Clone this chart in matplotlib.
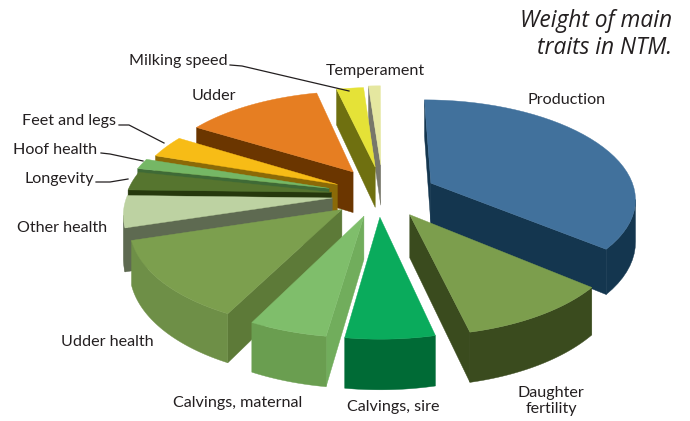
"""
Weight of main traits in NTM, drawn as an exploded 3D pie.
Matplotlib has no perspective pie, so wedges are projected by hand.
"""

import numpy as np
import matplotlib
matplotlib.use("Agg")
import matplotlib.pyplot as plt
from matplotlib.patches import Polygon

traits = ['Production', 'Daughter fertility', 'Calvings, sire', 'Calvings, maternal',
          'Udder health', 'Other health', 'Longevity', 'Hoof health',
          'Feet and legs', 'Udder', 'Milking speed', 'Temperament']
weights = [36.0, 10.4, 5.9, 5.2, 12.8, 5.1, 3.0, 1.7, 3.6, 12.7, 2.5, 1.1]
explode = [0.29, 0.23, 0.22, 0.22, 0.225, 0.224, 0.23, 0.26, 0.26, 0.30, 0.30, 0.32]
nudge = [0, 0.03, 0, 0, 0, 0, 0, 0.01, 0.035, 0.05, 0.03, 0.025]

top_colors = ['#41719C', '#7C9E4D', '#0AAB5C', '#7FBE6B', '#7C9F4E', '#BDD2A2',
              '#56752F', '#75B765', '#F7BC16', '#E67E22', '#E5E237', '#E5E7A0']
rim_colors = ['#14364F', '#3A4B1E', '#006B36', '#6A9E50', '#6E8F47', '#5E6A51',
              '#26380D', '#3F6A36', '#8B6A07', '#6B3600', '#6F7010', '#77776A']
wall_colors = ['#14364F', '#3A4B1E', '#006B36', '#71AD5C', '#5D7A38', '#5E6A51',
               '#26380D', '#3F6A36', '#8B6A07', '#6B3600', '#6F7010', '#77776A']

# projection settings, in pixels of the 690x421 picture
CX, CY = 378, 195
SCALE_X, SCALE_Y = 205, 98
PERSP = 0.14
DEPTH = 42


def project(gx, gy, drop=0):
    '''
    Ground plane coordinates to picture coordinates.
        Inputs:
            - gx, gy (arrays): position on the pie plane, radius 1
            - drop (float): how far below the top face
        Returns:
            - array of (x, y) pairs
    '''
    s = 1 / (1 + PERSP * gy)
    return np.column_stack([CX + SCALE_X * gx * s, CY - (SCALE_Y * gy - drop) * s])


def faces_viewer(quad):
    '''
    True if a side quad, walked along the top outline, turns towards the viewer.
    '''
    x, y = quad[:, 0], quad[:, 1]
    return np.sum(x * np.roll(y, -1) - np.roll(x, -1) * y) < 0


def draw_wedge(ax, start, end, off, shift, top, rim, wall):
    '''
    Draws one slice: the visible side faces first, then the top.
    Angles are in degrees clockwise from north.
    '''
    mid = np.radians((start + end) / 2)
    ox, oy = off * np.sin(mid) + shift, off * np.cos(mid)
    ang = np.radians(np.linspace(start, end, 40))
    gx = np.r_[ox, ox + np.sin(ang)]
    gy = np.r_[oy, oy + np.cos(ang)]
    upper = project(gx, gy)
    lower = project(gx, gy, DEPTH)
    count = len(upper)

    for i in (0, count - 1):
        j = (i + 1) % count
        quad = np.array([upper[i], upper[j], lower[j], lower[i]])
        if faces_viewer(quad):
            ax.add_patch(Polygon(quad, closed=True, fc=wall, ec=wall, lw=0.3))

    # the rim goes in as one polygon, separate quads leave seams
    seen = [i for i in range(1, count - 1)
            if faces_viewer(np.array([upper[i], upper[i + 1], lower[i + 1], lower[i]]))]
    if seen:
        first, last = seen[0], seen[-1] + 1
        outline = np.vstack([upper[first:last + 1], lower[first:last + 1][::-1]])
        ax.add_patch(Polygon(outline, closed=True, fc=rim, ec=rim, lw=0.3))

    ax.add_patch(Polygon(upper, closed=True, fc=top, ec=top, lw=0.3))


def labels(ax):
    '''
    Trait names, leader lines and the title, positioned manually.
    '''
    font = dict(family='Lato', fontsize=11.6, color='#231F20', ha='center', va='center')
    ax.text(567, 100.5, 'Production', **font)
    ax.text(375, 70.5, 'Temperament', **font)
    ax.text(178, 61.5, 'Milking speed', **font)
    ax.text(214, 95.5, 'Udder', **font)
    ax.text(69, 120.5, 'Feet and legs', **font)
    ax.text(55, 150.5, 'Hoof health', **font)
    ax.text(59, 178.5, 'Longevity', **font)
    ax.text(62, 227.5, 'Other health', **font)
    ax.text(107, 342.5, 'Udder health', **font)
    ax.text(238, 403.5, 'Calvings, maternal', **font)
    ax.text(393, 407.5, 'Calvings, sire', **font)
    ax.text(551, 401, 'Daughter\nfertility', linespacing=1.25, **font)

    leader = dict(color='#231F20', lw=0.9)
    ax.plot([230, 242, 349], [65, 66, 91], **leader)
    ax.plot([119, 129, 164], [125, 125, 143], **leader)
    ax.plot([101, 110, 143], [153, 154, 161], **leader)
    ax.plot([96, 110, 128], [182, 182, 179], **leader)

    title = dict(family='Open Sans', style='italic', fontsize=16.4, color='#231F20',
                 ha='right', va='center')
    ax.text(672, 21, 'Weight of main', **title)
    ax.text(672, 48, 'traits in NTM.', **title)


def main():
    fig = plt.figure(figsize=(6.9, 4.21), dpi=100)
    ax = fig.add_axes([0, 0, 1, 1])
    ax.set_xlim(0, 690)
    ax.set_ylim(421, 0)
    ax.axis('off')

    edges = np.r_[0, np.cumsum(weights)] * 360 / sum(weights)
    slices = []
    for i in range(len(weights)):
        mid = np.radians((edges[i] + edges[i + 1]) / 2)
        slices.append((explode[i] * np.cos(mid), i))

    # far slices first so the near ones cover them
    for _, i in sorted(slices, reverse=True):
        draw_wedge(ax, edges[i], edges[i + 1], explode[i], nudge[i],
                   top_colors[i], rim_colors[i], wall_colors[i])

    labels(ax)
    fig.savefig('out.png', dpi=100)


if __name__ == "__main__":
    main()
